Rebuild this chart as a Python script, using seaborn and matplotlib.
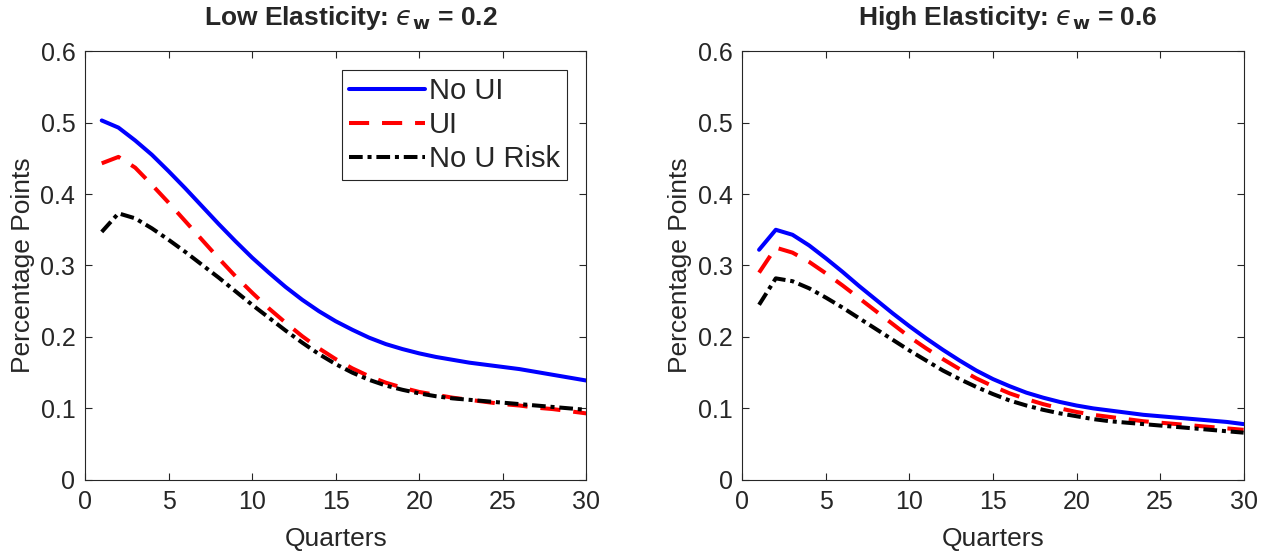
import numpy as np
import pandas as pd
import seaborn as sns
import matplotlib.pyplot as plt

quarters = np.arange(1, 31)

# Low elasticity (eps_w = 0.2)
low_no_ui = [0.503, 0.493, 0.475, 0.455, 0.432, 0.408, 0.383, 0.358, 0.334, 0.311,
             0.290, 0.270, 0.252, 0.236, 0.222, 0.210, 0.199, 0.190, 0.183, 0.177,
             0.172, 0.168, 0.164, 0.161, 0.158, 0.155, 0.151, 0.147, 0.143, 0.139]
low_ui = [0.443, 0.452, 0.437, 0.413, 0.388, 0.362, 0.336, 0.310, 0.285, 0.262,
          0.240, 0.220, 0.201, 0.184, 0.169, 0.156, 0.145, 0.136, 0.129, 0.123,
          0.119, 0.115, 0.112, 0.109, 0.106, 0.104, 0.101, 0.099, 0.096, 0.093]
low_no_risk = [0.347, 0.373, 0.366, 0.352, 0.336, 0.319, 0.301, 0.283, 0.264, 0.245,
               0.227, 0.209, 0.192, 0.176, 0.162, 0.150, 0.140, 0.132, 0.126, 0.121,
               0.117, 0.114, 0.112, 0.110, 0.108, 0.106, 0.104, 0.102, 0.100, 0.098]

# High elasticity (eps_w = 0.6)
high_no_ui = [0.322, 0.350, 0.343, 0.328, 0.310, 0.291, 0.271, 0.252, 0.233, 0.215,
              0.198, 0.182, 0.167, 0.153, 0.141, 0.131, 0.122, 0.115, 0.109, 0.104,
              0.100, 0.097, 0.094, 0.091, 0.089, 0.087, 0.085, 0.083, 0.081, 0.078]
high_ui = [0.290, 0.325, 0.318, 0.305, 0.289, 0.272, 0.254, 0.236, 0.218, 0.200,
           0.184, 0.169, 0.155, 0.142, 0.131, 0.121, 0.113, 0.106, 0.100, 0.095,
           0.091, 0.088, 0.085, 0.082, 0.080, 0.078, 0.076, 0.074, 0.072, 0.070]
high_no_risk = [0.245, 0.282, 0.278, 0.268, 0.255, 0.241, 0.226, 0.211, 0.196, 0.181,
                0.167, 0.153, 0.141, 0.130, 0.120, 0.111, 0.104, 0.098, 0.093, 0.089,
                0.085, 0.082, 0.080, 0.078, 0.076, 0.074, 0.072, 0.070, 0.068, 0.066]

series_names = ["No UI", "UI", "No U Risk"]
titles = ["Low Elasticity: $\u03f5_{\\mathbf{w}}$ = 0.2",
          "High Elasticity: $\u03f5_{\\mathbf{w}}$ = 0.6"]

sns.set_style("ticks")
plt.rcParams["font.family"] = ["Liberation Sans", "DejaVu Sans"]
plt.rcParams["mathtext.fontset"] = "dejavusans"
plt.rcParams["xtick.direction"] = "in"
plt.rcParams["ytick.direction"] = "in"

styles = {
    "No UI": dict(color="#0000ff", linestyle="-"),
    "UI": dict(color="#ff0000", linestyle=(0, (5.0, 3.2))),
    "No U Risk": dict(color="black", linestyle=(0, (3.4, 1.2, 1.0, 1.2))),
}

fig = plt.figure(figsize=(12.69, 5.56), dpi=100)
ax1 = fig.add_axes([0.067, 0.137, 0.395, 0.771])
ax2 = fig.add_axes([0.585, 0.137, 0.395, 0.771])

panels = [(ax1, [low_no_ui, low_ui, low_no_risk]),
          (ax2, [high_no_ui, high_ui, high_no_risk])]

for i, (ax, data) in enumerate(panels):
    for name, vals in zip(series_names, data):
        sns.lineplot(x=quarters, y=vals, ax=ax, label=name, lw=2.9, **styles[name])
    ax.set_xlim(0, 30)
    ax.set_ylim(0, 0.6)
    ax.set_xticks([0, 5, 10, 15, 20, 25, 30])
    ax.set_yticks(np.arange(0, 0.61, 0.1))
    ax.set_yticklabels(["0", "0.1", "0.2", "0.3", "0.4", "0.5", "0.6"])
    ax.tick_params(labelsize=18, colors="#262626", length=5, width=0.8,
                   top=True, right=True, pad=7)
    for sp in ax.spines.values():
        sp.set_color("#262626")
        sp.set_linewidth(0.8)
    ax.set_xlabel("Quarters", fontsize=19, color="#262626", labelpad=10)
    ax.set_ylabel("Percentage Points", fontsize=19, color="#262626", labelpad=4)
    ax.set_title(titles[i], fontsize=19, fontweight="bold", pad=19, x=0.53)
    if i == 0:
        leg = ax.legend(loc="upper right", fontsize=21, handlelength=2.6,
                        handletextpad=0.15, borderpad=0.25, labelspacing=0.2,
                        fancybox=False, framealpha=1, edgecolor="#262626",
                        borderaxespad=0.65)
        leg.get_frame().set_linewidth(0.8)
    else:
        ax.get_legend().remove()

fig.savefig("out.png", dpi=100)
